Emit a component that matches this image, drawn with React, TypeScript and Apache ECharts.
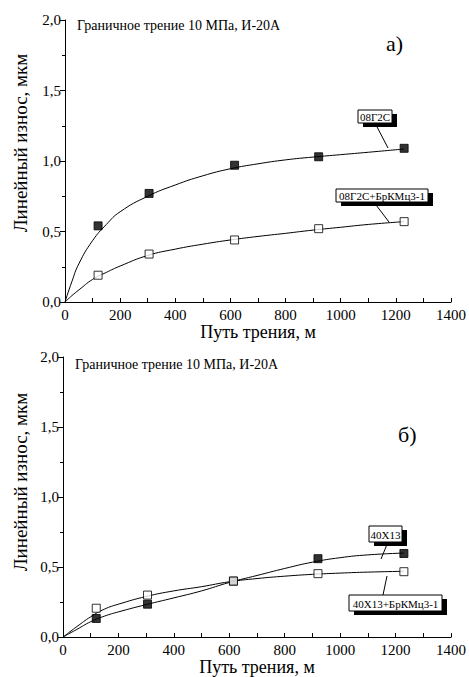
import React, { useEffect, useRef } from "react";
import * as echarts from "echarts";

// Panel а) measured points
const aX = [120, 305, 615, 920, 1230];
const aSteel = [0.54, 0.77, 0.97, 1.03, 1.09];
const aSteelBronze = [0.19, 0.34, 0.44, 0.52, 0.57];
// Fitted curves
const curveX = [0, 25, 50, 100, 150, 200, 300, 400, 500, 600, 700, 800, 900, 1000, 1100, 1230];
const aSteelCurve = [0, 0.145, 0.27, 0.435, 0.55, 0.64, 0.75, 0.83, 0.895, 0.945, 0.98, 1.008, 1.028, 1.045, 1.062, 1.085];
const aSteelBronzeCurve = [0, 0.045, 0.085, 0.16, 0.21, 0.255, 0.33, 0.375, 0.41, 0.44, 0.465, 0.487, 0.51, 0.53, 0.55, 0.57];

// Panel б) measured points
const bX = [120, 305, 615, 920, 1230];
const bSteel = [0.133, 0.235, 0.4, 0.56, 0.597];
const bSteelBronze = [0.206, 0.3, 0.4, 0.453, 0.467];
const bSteelCurve = [0, 0.028, 0.055, 0.11, 0.15, 0.18, 0.232, 0.28, 0.33, 0.39, 0.44, 0.49, 0.535, 0.567, 0.587, 0.6];
const bSteelBronzeCurve = [0, 0.038, 0.075, 0.145, 0.2, 0.235, 0.29, 0.33, 0.36, 0.395, 0.418, 0.435, 0.448, 0.457, 0.464, 0.47];

const title = "Граничное трение 10 МПа, И-20А";
const yTitle = "Линейный износ, мкм";
const xTitle = "Путь трения, м";
const labelsA = ["08Г2С", "08Г2С+БрКМц3-1"];
const labelsB = ["40Х13", "40Х13+БрКМц3-1"];

const FONT = "Liberation Serif";

function zip(xs: number[], ys: number[]) {
  return xs.map((x, i) => [x, ys[i]]);
}

function xAxisCfg(gridIndex: number, gap: number) {
  return {
    type: "value",
    gridIndex,
    min: 0,
    max: 1400,
    interval: 200,
    name: xTitle,
    nameLocation: "middle",
    nameGap: gap,
    nameTextStyle: { fontFamily: FONT, fontSize: 18, color: "#000" },
    axisLine: { show: true, lineStyle: { color: "#000", width: 1 } },
    axisTick: { show: true, inside: true, length: 4, lineStyle: { color: "#000" } },
    minorTick: { show: true, splitNumber: 2, length: 4, lineStyle: { color: "#000" } },
    axisLabel: {
      fontFamily: FONT,
      fontSize: 15,
      color: "#000",
      margin: 5,
      formatter: (v: number) => String(v),
    },
    splitLine: { show: false },
  };
}

function yAxisCfg(gridIndex: number) {
  return {
    type: "value",
    gridIndex,
    min: 0,
    max: 2,
    interval: 0.5,
    axisLine: { show: true, lineStyle: { color: "#000", width: 1 } },
    axisTick: { show: true, inside: false, length: 5, lineStyle: { color: "#000" } },
    minorTick: { show: true, splitNumber: 2, length: 3, lineStyle: { color: "#000" } },
    axisLabel: {
      fontFamily: FONT,
      fontSize: 15,
      color: "#000",
      margin: 4,
      formatter: (v: number) => v.toFixed(1).replace(".", ","),
    },
    splitLine: { show: false },
  };
}

function curve(ys: number[], idx: number) {
  return {
    type: "line",
    xAxisIndex: idx,
    yAxisIndex: idx,
    data: zip(curveX, ys),
    smooth: 0.5,
    showSymbol: false,
    symbol: "none",
    lineStyle: { color: "#000", width: 1 },
    z: 2,
    silent: true,
  };
}

function points(data: number[][], idx: number, filled: boolean) {
  return {
    type: "scatter",
    xAxisIndex: idx,
    yAxisIndex: idx,
    data,
    symbol: "rect",
    symbolSize: 8,
    itemStyle: filled
      ? { color: "#000", borderColor: "#000", borderWidth: 1 }
      : { color: "#fff", borderColor: "#000", borderWidth: 1 },
    z: 3,
  };
}

function labelBox(text: string, x: number, y: number, w: number, h: number) {
  return [
    { type: "rect", shape: { x: x + 5, y: y + 4, width: w, height: h }, style: { fill: "#000" }, z: 10 },
    { type: "rect", shape: { x, y, width: w, height: h }, style: { fill: "#fff", stroke: "#000", lineWidth: 1 }, z: 11 },
    {
      type: "text",
      x: x + w / 2,
      y: y + h / 2 + 0.5,
      style: { text, fontFamily: FONT, fontSize: 11, fill: "#000", align: "center", verticalAlign: "middle" },
      z: 12,
    },
  ];
}

function leader(x1: number, y1: number, x2: number, y2: number) {
  return { type: "line", shape: { x1, y1, x2, y2 }, style: { stroke: "#000", lineWidth: 1 }, z: 9 };
}

export default function App() {
  const ref = useRef<HTMLDivElement>(null);
  useEffect(() => {
    if (!ref.current) return;
    const chart = echarts.init(ref.current, null, { renderer: "svg" });
    chart.setOption({
      animation: false,
      backgroundColor: "#fff",
      textStyle: { fontFamily: FONT },
      grid: [
        { left: 65, top: 20, width: 386, height: 282 },
        { left: 63, top: 357, width: 388, height: 286 },
      ],
      xAxis: [xAxisCfg(0, 19), xAxisCfg(1, 17)],
      yAxis: [yAxisCfg(0), yAxisCfg(1)],
      series: [
        curve(aSteelCurve, 0),
        curve(aSteelBronzeCurve, 0),
        points(zip(aX, aSteel), 0, true),
        points(zip(aX, aSteelBronze), 0, false),
        curve(bSteelCurve, 1),
        curve(bSteelBronzeCurve, 1),
        points(zip(bX, bSteel), 1, true),
        points(zip(bX, bSteelBronze), 1, false),
      ],
      graphic: [
        { type: "text", x: 77, y: 18, style: { text: title, fontFamily: FONT, fontSize: 14, fill: "#000" } },
        { type: "text", x: 75, y: 357, style: { text: title, fontFamily: FONT, fontSize: 14, fill: "#000" } },
        { type: "text", x: 386, y: 32, style: { text: "а)", fontFamily: FONT, fontSize: 22, fill: "#000" } },
        { type: "text", x: 398, y: 423, style: { text: "б)", fontFamily: FONT, fontSize: 22, fill: "#000" } },
        {
          type: "text", x: 20, y: 143, rotation: Math.PI / 2,
          style: { text: yTitle, fontFamily: FONT, fontSize: 19, fill: "#000", align: "center", verticalAlign: "middle" },
        },
        {
          type: "text", x: 20, y: 482, rotation: Math.PI / 2,
          style: { text: yTitle, fontFamily: FONT, fontSize: 19, fill: "#000", align: "center", verticalAlign: "middle" },
        },
        leader(375, 123, 388, 148),
        leader(373, 201, 389, 222),
        ...labelBox(labelsA[0], 358, 110, 34, 13),
        ...labelBox(labelsA[1], 336, 189, 92, 13),
        leader(388, 542, 381, 559),
        leader(383, 595, 387, 576),
        ...labelBox(labelsB[0], 369, 526, 33, 16),
        ...labelBox(labelsB[1], 349, 595, 93, 16),
      ],
    });
    return () => chart.dispose();
  }, []);
  return (
    <div
      ref={ref}
      style={{ position: "absolute", left: 0, top: 0, width: 469, height: 677, background: "#fff" }}
    />
  );
}
